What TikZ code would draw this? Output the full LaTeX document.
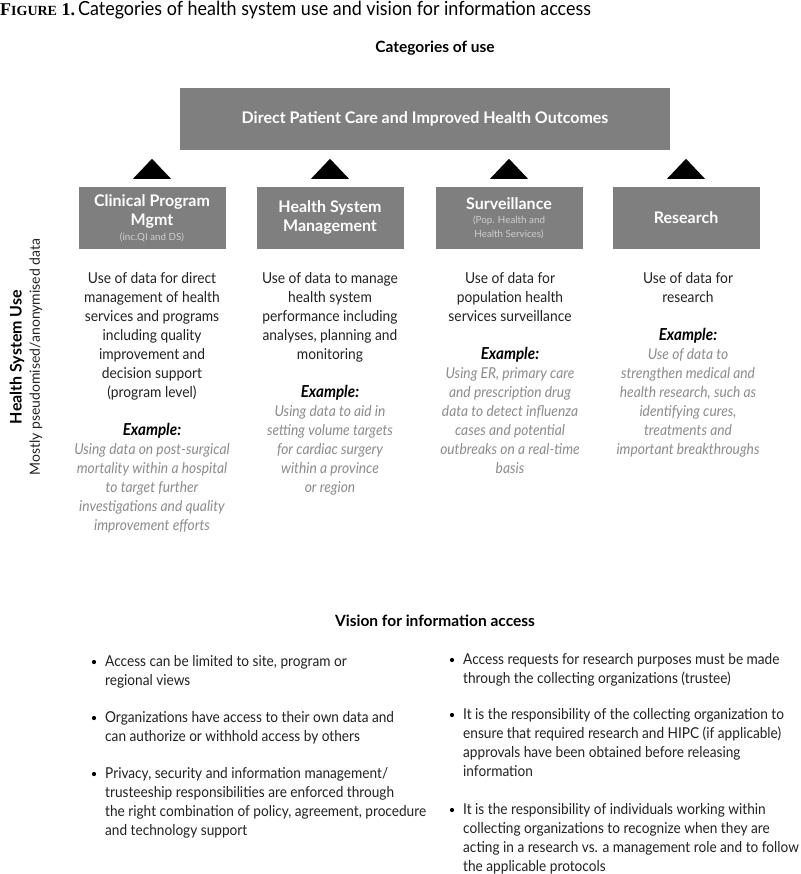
\documentclass[tikz,border=0pt]{standalone}
\usepackage{fontspec}
\setmainfont{Lato}
\newfontfamily\serifft{Liberation Serif}
\newfontfamily\condft[FakeStretch=0.91]{Lato}
\newfontfamily\lightft[FakeStretch=0.92]{Lato}
\usetikzlibrary{calc}
\definecolor{boxgray}{HTML}{7F7F7F}
\definecolor{exgray}{HTML}{8C8C8C}
\definecolor{subgray}{HTML}{CFCFCF}
\definecolor{txt}{HTML}{222222}
\newcommand\subln[1]{{\mdseries\color{subgray}\fontsize{9.8}{12}\selectfont #1}}
\newcommand\exln[1]{{\color{exgray}\itshape #1}}
\newcommand\exhead{{\color{black}\bfseries\itshape\fontsize{16.5}{19}\selectfont Example:}}
\begin{document}
\begin{tikzpicture}[x=1pt,y=-1pt,
  catbox/.style={fill=boxgray,minimum width=147pt,minimum height=62pt,inner sep=0pt,
     text=white,font=\bfseries\fontsize{16}{19}\selectfont,align=center},
  bigbox/.style={fill=boxgray,minimum width=490pt,minimum height=62pt,inner sep=0pt,
     text=white,font=\bfseries\fontsize{16}{19}\selectfont,align=center},
  coltext/.style={anchor=north,inner sep=0pt,align=center,text=txt,
     font=\lightft\fontsize{15}{19}\selectfont},
  heading/.style={inner sep=0pt,font=\bfseries\fontsize{15.5}{18}\selectfont,text=black},
  bullettext/.style={anchor=north west,inner sep=0pt,align=left,text=txt,
     font=\condft\fontsize{15}{19}\selectfont},
  bulletdot/.style={circle,fill=black,inner sep=0pt,minimum size=4.2pt},
  tri/.style={fill=black}]
\useasboundingbox (0,0) rectangle (800,874);
\fill[white] (0,0) rectangle (800,874);

\node[anchor=west,inner sep=0pt] (fig) at (0,10)
  {{\serifft\bfseries\fontsize{18}{19}\selectfont F{\fontsize{14}{15}\selectfont IGURE} 1.}\hspace{3pt}{\lightft\fontsize{19.5}{21}\selectfont Categories of health system use and vision for information access}};

\node[heading] (cat) at (435,48) {Categories of use};

\node[bigbox] (dpc) at (425,119) {Direct Patient Care and Improved Health Outcomes};

\node[catbox] (b1) at (152,218) {Clinical Program\\Mgmt\\[-4pt]\subln{(inc.QI and DS)}};
\node[catbox] (b2) at (330,218) {Health System\\Management};
\node[catbox] (b3) at (509,218) {Surveillance\\[-5pt]\subln{(Pop. Health and}\\[-5pt]\subln{Health Services)}};
\node[catbox] (b4) at (686,218) {Research};

\foreach \b in {b1,b2,b3,b4}{
  \fill[tri] ($(\b.north)+(-19,-8)$) -- ($(\b.north)+(19,-8)$) -- ($(\b.north)+(0,-28)$) -- cycle;
}

\node[rotate=90,inner sep=0pt,font=\bfseries\fontsize{16}{18}\selectfont] (hsu) at (17,357) {Health System Use};
\node[rotate=90,inner sep=0pt,font=\fontsize{14}{17}\selectfont,text=txt] (mpa) at (36,357) {Mostly pseudomised/anonymised data};

\node[coltext] (t1) at (152,272) {Use of data for direct\\management of health\\services and programs\\including quality\\improvement and\\decision support\\(program level)\\[19pt]
\exhead\\
\exln{Using data on post-surgical}\\
\exln{mortality within a hospital}\\
\exln{to target further}\\
\exln{investigations and quality}\\
\exln{improvement efforts}};

\node[coltext] (t2) at (330,272) {Use of data to manage\\health system\\performance including\\analyses, planning and\\monitoring\\[19pt]
\exhead\\
\exln{Using data to aid in}\\
\exln{setting volume targets}\\
\exln{for cardiac surgery}\\
\exln{within a province}\\
\exln{or region}};

\node[coltext] (t3) at (510,272) {Use of data for\\population health\\services surveillance\\[19pt]
\exhead\\
\exln{Using ER, primary care}\\
\exln{and prescription drug}\\
\exln{data to detect influenza}\\
\exln{cases and potential}\\
\exln{outbreaks on a real-time}\\
\exln{basis}};

\node[coltext] (t4) at (688,272) {Use of data for\\research\\[19pt]
\exhead\\
\exln{Use of data to}\\
\exln{strengthen medical and}\\
\exln{health research, such as}\\
\exln{identifying cures,}\\
\exln{treatments and}\\
\exln{important breakthroughs}};

\node[heading] (vis) at (435,621) {Vision for information access};

\node[bullettext] (l1) at (105,655) {Access can be limited to site, program or\\regional views};
\node[bullettext] (l2) at (105,711) {Organizations have access to their own data and\\can authorize or withhold access by others};
\node[bullettext] (l3) at (105,767) {Privacy, security and information management/\\trusteeship responsibilities are enforced through\\the right combination of policy, agreement, procedure\\and technology support};

\node[bullettext] (r1) at (463,653) {Access requests for research purposes must be made\\through the collecting organizations (trustee)};
\node[bullettext] (r2) at (463,708) {It is the responsibility of the collecting organization to\\ensure that required research and HIPC (if applicable)\\approvals have been obtained before releasing\\information};
\node[bullettext] (r3) at (463,803) {It is the responsibility of individuals working within\\collecting organizations to recognize when they are\\acting in a research vs. a management role and to follow\\the applicable protocols};

\foreach \n in {l1,l2,l3,r1,r2,r3}{
  \node[bulletdot] (\n dot) at ($(\n.north west)+(-11,7)$) {};
}
\end{tikzpicture}
\end{document}
